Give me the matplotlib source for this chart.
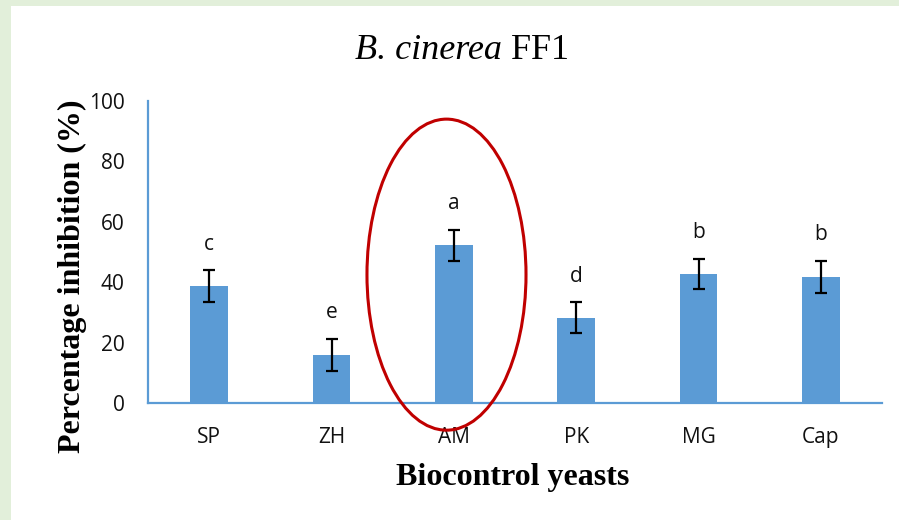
import matplotlib
matplotlib.use("Agg")
import matplotlib.pyplot as plt
from matplotlib.patches import Ellipse, Rectangle
import numpy as np

categories = ["SP", "ZH", "AM", "PK", "MG", "Cap"]
values = [38.6, 15.8, 52.2, 28.2, 42.7, 41.8]
errors = [5.3, 5.3, 5.2, 5.1, 5.0, 5.3]
letters = ["c", "e", "a", "d", "b", "b"]
yticks = [0, 20, 40, 60, 80, 100]

BLUE = "#5B9BD5"
SANS = ["Open Sans", "DejaVu Sans"]
SERIF = ["Liberation Serif", "DejaVu Serif"]

fig = plt.figure(figsize=(8.99, 5.2), dpi=100)
fig.patch.set_facecolor("#E2EFDA")
bg = Rectangle((11 / 899, 0), 1 - 11 / 899, (520 - 6) / 520,
               transform=fig.transFigure, facecolor="white",
               edgecolor="none", zorder=-10)
fig.patches.append(bg)

ax = fig.add_axes([148 / 899, 117 / 520, (882 - 148) / 899, (403 - 101) / 520])
ax.set_facecolor("none")

x = np.arange(len(categories))
ax.bar(x, values, width=0.31, color=BLUE, zorder=2)
ax.errorbar(x, values, yerr=errors, fmt="none", ecolor="black",
            elinewidth=1.6, capsize=4.5, capthick=1.6, zorder=3)

for xi, v, e, lab in zip(x, values, errors, letters):
    ax.annotate(lab, (xi, v + e), xytext=(0, 15), textcoords="offset points",
                ha="center", va="baseline", fontsize=15, family=SANS,
                color="#111111")

ax.set_xlim(-0.5, len(categories) - 0.5)
ax.set_ylim(0, 100)
ax.set_xticks(x)
ax.set_xticklabels(categories, family=SANS, fontsize=15)
ax.set_yticks(yticks)
ax.set_yticklabels([str(t) for t in yticks], family=SANS, fontsize=15)
ax.tick_params(axis="both", length=0, colors="#111111")
ax.tick_params(axis="x", pad=17)
ax.tick_params(axis="y", pad=17)

for s in ["top", "right"]:
    ax.spines[s].set_visible(False)
for s in ["left", "bottom"]:
    ax.spines[s].set_color(BLUE)
    ax.spines[s].set_linewidth(1.6)

ax.set_ylabel("Percentage inhibition (%)", family=SERIF, fontweight="bold",
              fontsize=23, va="center")
ax.yaxis.set_label_coords((72 - 148) / 734, (403 - 276.5) / 302)
ax.set_xlabel("Biocontrol yeasts", family=SERIF, fontweight="bold",
              fontsize=23, va="top")
ax.xaxis.set_label_coords((513 - 148) / 734, (403 - 463) / 302)

# Title: italic species name + upright strain code, centred as a whole
renderer = fig.canvas.get_renderer()
t1 = fig.text(0, 461 / 520, "B. cinerea", fontsize=26, family=SERIF,
              style="italic", va="baseline", ha="left")
t2 = fig.text(0, 461 / 520, " FF1", fontsize=26, family=SERIF,
              va="baseline", ha="left")
w1 = t1.get_window_extent(renderer).width
w2 = t2.get_window_extent(renderer).width
start = 462 - (w1 + w2) / 2
t1.set_x(start / 899)
t2.set_x((start + w1) / 899)

ell = Ellipse((1.94, 42.5), 1.30, 103, facecolor="none", edgecolor="#C00000",
              linewidth=2.2, clip_on=False, zorder=4)
ax.add_patch(ell)

fig.savefig("out.png", dpi=100, facecolor=fig.get_facecolor())
